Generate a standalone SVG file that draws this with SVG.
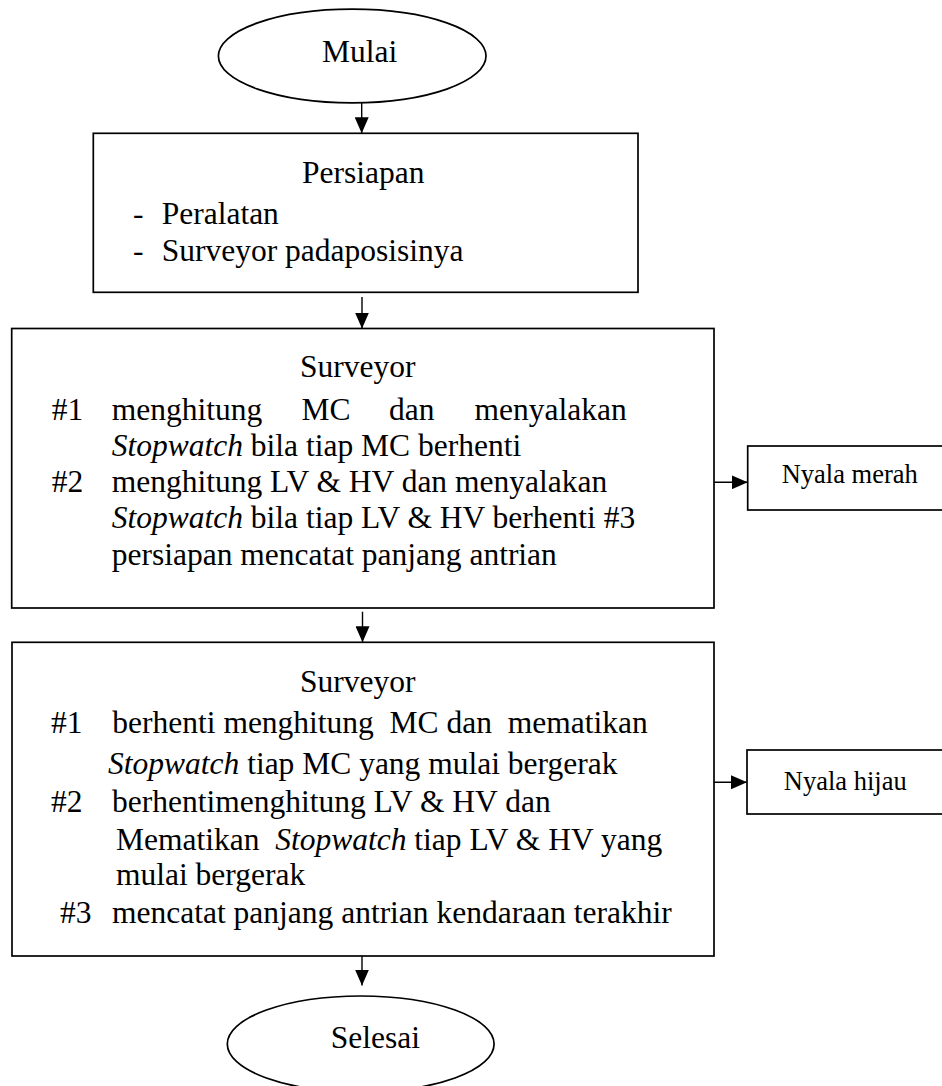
<svg xmlns="http://www.w3.org/2000/svg" width="942" height="1086" viewBox="0 0 942 1086">
<style>
.shape{fill:#fff;stroke:#000;stroke-width:1.7}
.conn{stroke:#000;stroke-width:1.4;fill:none}
.t{font-family:"Liberation Serif","Times New Roman",serif;font-size:31.5px;fill:#000;white-space:pre}
.s{font-family:"Liberation Serif","Times New Roman",serif;font-size:26.5px;fill:#000}
.i{font-style:italic}
</style>
<defs>
<marker id="ah" markerUnits="userSpaceOnUse" markerWidth="16" markerHeight="14" refX="16" refY="7" orient="auto">
<path d="M0,0 L16,7 L0,14 z" fill="#000"/>
</marker>
</defs>
<rect width="942" height="1086" fill="#fff"/>
<g id="connectors">
<line class="conn" x1="361.7" y1="103" x2="361.7" y2="133.3" marker-end="url(#ah)"/>
<line class="conn" x1="362" y1="297" x2="362" y2="328.5" marker-end="url(#ah)"/>
<line class="conn" x1="362.5" y1="611.7" x2="362.5" y2="642.3" marker-end="url(#ah)"/>
<line class="conn" x1="362" y1="956" x2="362" y2="985.5" marker-end="url(#ah)"/>
<line class="conn" x1="714" y1="482.3" x2="747.7" y2="482.3" marker-end="url(#ah)"/>
<line class="conn" x1="714" y1="782.3" x2="747" y2="782.3" marker-end="url(#ah)"/>
</g>
<g id="mulai">
<ellipse class="shape" cx="352.2" cy="56" rx="133.8" ry="46.8"/>
<text class="t" x="322" y="62.3">Mulai</text>
</g>
<g id="persiapan">
<rect class="shape" x="93.3" y="133.3" width="544.7" height="159"/>
<text class="t" x="302" y="182.5">Persiapan</text>
<text class="t" x="133" y="224">-</text>
<text class="t" x="161.7" y="224">Peralatan</text>
<text class="t" x="133" y="261">-</text>
<text class="t" x="161.7" y="261">Surveyor padaposisinya</text>
</g>
<g id="surveyor1">
<rect class="shape" x="11.7" y="328.5" width="702.3" height="279.5"/>
<text class="t" x="300" y="376.7">Surveyor</text>
<text class="t" x="51.7" y="420">#1</text>
<text class="t" x="111.7" y="420">menghitung</text>
<text class="t" x="301.5" y="420">MC</text>
<text class="t" x="389" y="420">dan</text>
<text class="t" x="474.5" y="420">menyalakan</text>
<text class="t" x="111.7" y="456"><tspan class="i">Stopwatch</tspan> bila tiap MC berhenti</text>
<text class="t" x="51.7" y="491.7">#2</text>
<text class="t" x="111.7" y="491.7">menghitung LV &amp; HV dan menyalakan</text>
<text class="t" x="111.7" y="528.3"><tspan class="i">Stopwatch</tspan> bila tiap LV &amp; HV berhenti #3</text>
<text class="t" x="111.7" y="565">persiapan mencatat panjang antrian</text>
</g>
<g id="nyala-merah">
<rect class="shape" x="747.7" y="446" width="210" height="64"/>
<text class="s" x="781.7" y="483.3">Nyala merah</text>
</g>
<g id="surveyor2">
<rect class="shape" x="12" y="642.3" width="702" height="313.7"/>
<text class="t" x="300" y="691.7">Surveyor</text>
<text class="t" x="51" y="733.3">#1</text>
<text class="t" x="112.3" y="733.3">berhenti menghitung  MC dan  mematikan</text>
<text class="t" x="108" y="774.3"><tspan class="i">Stopwatch</tspan> tiap MC yang mulai bergerak</text>
<text class="t" x="51" y="811.7">#2</text>
<text class="t" x="112" y="811.7">berhentimenghitung LV &amp; HV dan</text>
<text class="t" x="116" y="850">Mematikan  <tspan class="i">Stopwatch</tspan> tiap LV &amp; HV yang</text>
<text class="t" x="116" y="885">mulai bergerak</text>
<text class="t" x="60" y="922.7">#3</text>
<text class="t" x="112" y="922.7">mencatat panjang antrian kendaraan terakhir</text>
</g>
<g id="nyala-hijau">
<rect class="shape" x="747" y="750" width="210" height="64"/>
<text class="s" x="783.8" y="790">Nyala hijau</text>
</g>
<g id="selesai">
<ellipse class="shape" cx="360.7" cy="1044" rx="133.4" ry="48"/>
<text class="t" x="330.7" y="1048.3">Selesai</text>
</g>
</svg>
